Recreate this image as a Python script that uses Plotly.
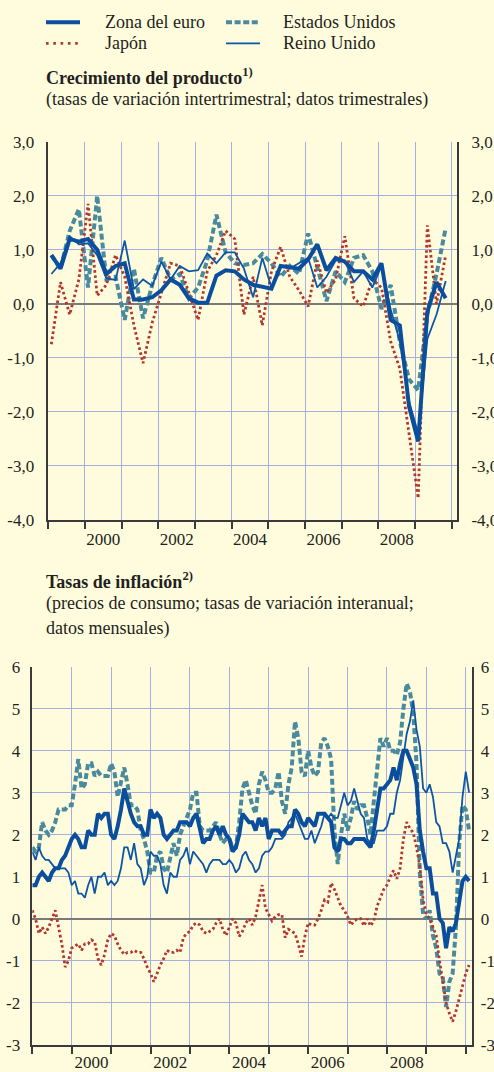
import plotly.graph_objects as go

# Crecimiento del producto: tasas intertrimestrales, 1999 T1 - 2009 T4
euro_q = [0.9, 0.65, 1.2, 1.15, 1.2, 1.0, 0.55, 0.7, 0.75, 0.08,
          0.08, 0.12, 0.25, 0.45, 0.35, 0.1, 0.02, 0.02, 0.52, 0.62,
          0.6, 0.45, 0.35, 0.32, 0.28, 0.7, 0.68, 0.65, 0.82, 1.1,
          0.62, 0.85, 0.78, 0.6, 0.6, 0.45, 0.75, -0.3, -0.4, -1.9,
          -2.55, -0.15, 0.4, 0.1]
us_q = [0.9, 0.65, 1.35, 1.75, 0.3, 2.0, 0.45, 0.5, -0.3, 0.65,
        -0.27, 0.35, 0.85, 0.45, 0.55, 0.1, 0.3, 0.8, 1.65, 0.95,
        0.75, 0.72, 0.75, 0.92, 0.75, 0.5, 0.7, 0.55, 1.3, 0.65,
        0.05, 0.6, 0.4, 0.85, 0.9, 0.6, -0.1, 0.35, -0.7, -1.4,
        -1.6, -0.2, 0.55, 1.4]
japan_q = [-0.75, 0.4, -0.2, 0.45, 1.85, 0.15, 0.35, 0.9, 0.5, -0.4,
           -1.1, -0.35, 0.2, 0.75, 0.7, 0.2, -0.3, 0.6, 0.9, 1.35,
           1.2, -0.2, 0.5, -0.4, 0.6, 1.05, 0.5, 0.25, -0.05, 0.8,
           0.2, 0.45, 1.25, 0.1, -0.05, 0.45, 0.3, -0.7, -1.2, -2.4,
           -3.6, 1.45, 0.0, 0.9]
uk_q = [0.55, 0.75, 1.25, 1.1, 1.12, 0.9, 0.47, 0.44, 1.17, 0.27,
        0.45, 0.33, 0.78, 0.45, 0.7, 0.6, 0.62, 0.93, 0.75, 0.95,
        0.95, 0.65, 0.12, 0.85, 0.3, 0.7, 0.65, 0.75, 0.85, 0.3,
        0.5, 0.8, 0.8, 0.4, 0.6, 0.3, 0.7, -0.1, -0.7, -1.8,
        -2.4, -0.65, -0.2, 0.42]

# Tasas de inflacion: tasas interanuales, ene 1999 - feb 2010
euro_m = [0.8, 0.8, 1.0, 1.1, 1.0, 0.9, 1.1, 1.2, 1.2, 1.4, 1.5, 1.7,
          1.9, 2.0, 1.9, 1.7, 1.7, 2.1, 2.0, 2.0, 2.5, 2.4, 2.5, 2.5,
          2.0, 1.9, 2.2, 2.6, 3.1, 2.8, 2.5, 2.3, 2.2, 2.2, 2.0, 2.0,
          2.6, 2.4, 2.5, 2.4, 2.0, 1.9, 2.0, 2.1, 2.1, 2.3, 2.3, 2.3,
          2.2, 2.4, 2.5, 2.1, 1.8, 1.9, 1.9, 2.1, 2.2, 2.0, 2.2, 2.0,
          1.9, 1.6, 1.7, 2.0, 2.5, 2.4, 2.3, 2.3, 2.1, 2.4, 2.2, 2.4,
          1.9, 2.1, 2.1, 2.1, 2.0, 2.1, 2.2, 2.2, 2.6, 2.5, 2.3, 2.2,
          2.4, 2.3, 2.2, 2.5, 2.5, 2.5, 2.4, 2.3, 1.7, 1.6, 1.9, 1.9,
          1.8, 1.8, 1.9, 1.9, 1.9, 1.9, 1.8, 1.7, 2.1, 2.6, 3.1, 3.1,
          3.2, 3.3, 3.6, 3.3, 3.7, 4.0, 4.0, 3.8, 3.6, 3.2, 2.1, 1.6,
          1.2, 1.2, 0.6, 0.6, 0.0, -0.1, -0.7, -0.2, -0.3, -0.1, 0.4, 0.9,
          1.0, 0.9]
us_m = [1.7, 1.6, 1.7, 2.3, 2.1, 2.0, 2.1, 2.3, 2.6, 2.6, 2.6, 2.7,
        2.7, 3.2, 3.8, 3.1, 3.2, 3.7, 3.7, 3.4, 3.5, 3.4, 3.4, 3.4,
        3.7, 3.5, 2.9, 3.3, 3.6, 3.2, 2.7, 2.7, 2.6, 2.1, 1.9, 1.6,
        1.1, 1.1, 1.5, 1.6, 1.2, 1.1, 1.5, 1.8, 1.5, 2.0, 2.2, 2.4,
        2.6, 3.0, 3.0, 2.2, 2.1, 2.1, 2.1, 2.2, 2.3, 2.0, 1.8, 1.9,
        1.9, 1.7, 1.7, 2.3, 3.1, 3.3, 3.0, 2.7, 2.5, 3.2, 3.5, 3.3,
        3.0, 3.0, 3.1, 3.5, 2.8, 2.5, 3.2, 3.6, 4.7, 4.3, 3.5, 3.4,
        4.0, 3.6, 3.4, 3.5, 4.2, 4.3, 4.1, 3.8, 2.1, 1.3, 2.0, 2.5,
        2.1, 2.4, 2.8, 2.6, 2.7, 2.7, 2.4, 2.0, 2.8, 3.5, 4.3, 4.1,
        4.3, 4.0, 4.0, 3.9, 4.2, 5.0, 5.6, 5.4, 4.9, 3.7, 1.1, 0.1,
        0.0, 0.2, -0.4, -0.7, -1.3, -1.4, -2.1, -1.5, -1.3, -0.2, 1.8, 2.7,
        2.6, 2.1]
japan_m = [0.2, 0.0, -0.35, -0.2, -0.35, -0.2, 0.0, 0.2, -0.2, -0.6, -1.15, -1.0,
           -0.7, -0.65, -0.6, -0.75, -0.6, -0.6, -0.5, -0.55, -0.95, -1.1, -0.85, -0.5,
           -0.35, -0.4, -0.6, -0.75, -0.85, -0.8, -0.8, -0.75, -0.8, -0.8, -0.95, -1.15,
           -1.3, -1.5, -1.3, -1.1, -0.95, -0.75, -0.8, -0.8, -0.75, -0.8, -0.45, -0.35,
           -0.3, -0.15, -0.1, -0.15, -0.3, -0.35, -0.3, -0.25, -0.1, 0.0, -0.25, -0.4,
           -0.2, 0.0, -0.1, -0.42, -0.3, -0.1, 0.0, -0.15, 0.05, 0.45, 0.8, 0.25,
           0.1, -0.05, 0.05, 0.1, 0.1, -0.45, -0.25, -0.3, -0.35, -0.6, -0.9, -0.42,
           -0.1, -0.15, -0.15, 0.0, 0.2, 0.45, 0.4, 0.85, 0.7, 0.5, 0.3, 0.2,
           0.05, -0.15, -0.05, 0.0, 0.0, -0.17, 0.0, -0.17, -0.05, 0.3, 0.5, 0.7,
           0.8, 1.0, 1.15, 0.95, 1.2, 1.9, 2.3, 2.15, 2.05, 1.7, 1.25, 0.45,
           0.1, 0.0, -0.2, -0.4, -1.0, -1.45, -2.0, -2.25, -2.45, -2.2, -1.9, -1.65,
           -1.3, -1.1]
uk_m = [1.6, 1.4, 1.7, 1.5, 1.4, 1.4, 1.3, 1.2, 1.2, 1.2, 1.2, 1.1,
        0.8, 0.9, 0.6, 0.6, 0.5, 0.8, 1.0, 0.6, 1.0, 1.0, 1.1, 0.8,
        0.9, 0.8, 0.9, 1.2, 1.7, 1.7, 1.4, 1.8, 1.3, 1.2, 0.8, 1.0,
        1.6, 1.5, 1.5, 1.3, 0.8, 0.6, 1.1, 1.0, 1.0, 1.4, 1.5, 1.7,
        1.3, 1.6, 1.5, 1.4, 1.3, 1.1, 1.3, 1.4, 1.4, 1.4, 1.3, 1.3,
        1.4, 1.3, 1.1, 1.2, 1.5, 1.6, 1.4, 1.3, 1.1, 1.2, 1.5, 1.6,
        1.6, 1.7, 1.9, 1.9, 1.9, 2.0, 2.3, 2.4, 2.5, 2.3, 2.1, 1.9,
        1.9, 2.1, 1.8, 2.0, 2.2, 2.5, 2.4, 2.5, 2.4, 2.4, 2.7, 3.0,
        2.7, 2.8, 3.1, 2.8, 2.5, 2.4, 1.9, 1.8, 1.8, 2.1, 2.1, 2.1,
        2.2, 2.5, 2.5, 3.0, 3.3, 3.8, 4.4, 4.7, 5.2, 4.5, 4.1, 3.1,
        3.0, 3.2, 2.9, 2.3, 2.2, 1.8, 1.8, 1.6, 1.1, 1.5, 1.9, 2.9,
        3.5, 3.0]

years = list(range(1999, 2011))
label_years = [2000, 2002, 2004, 2006, 2008]
growth_ticks = [-4, -3, -2, -1, 0, 1, 2, 3]
growth_text = ["-4,0", "-3,0", "-2,0", "-1,0", "0,0", "1,0", "2,0", "3,0"]
infl_ticks = [-3, -2, -1, 0, 1, 2, 3, 4, 5, 6]
infl_text = ["-3", "-2", "-1", "0", "1", "2", "3", "4", "5", "6"]

# positions on a decimal-year axis
x_q = [1999 + 1 / 12 + i / 4 for i in range(len(euro_q))]
x_m = [1999 + i / 12 for i in range(len(euro_m))]

# Colours / styles
BG = "#FFFCDE"
GRID = "#A6AFDD"
AXIS = "#3A3A3A"
ZERO = "#7A7A7A"
TEXT = "#231F20"
EURO = "#0B4E9E"
UK = "#0D55A5"
US = "#4A8A9E"
JAPAN = "#B2372D"
FONT = "Liberation Serif, Times New Roman, serif"

W, H = 494, 1072


def fx(px):
    return px / W


def fy(px):
    return 1 - px / H


fig = go.Figure()

# top chart
for xs, ys, color, width, dash in [
    (x_q, us_q, US, 4, "6px,3px"),
    (x_q, japan_q, JAPAN, 2.8, "2.6px,2.6px"),
    (x_q, uk_q, UK, 1.8, "solid"),
    (x_q, euro_q, EURO, 4, "solid"),
]:
    fig.add_trace(go.Scatter(x=xs, y=ys, mode="lines", xaxis="x", yaxis="y",
                             line=dict(color=color, width=width, dash=dash),
                             hoverinfo="skip"))

# bottom chart
for xs, ys, color, width, dash in [
    (x_m, us_m, US, 4, "6px,3px"),
    (x_m, japan_m, JAPAN, 2.8, "2.6px,2.6px"),
    (x_m, uk_m, UK, 1.8, "solid"),
    (x_m, euro_m, EURO, 4, "solid"),
]:
    fig.add_trace(go.Scatter(x=xs, y=ys, mode="lines", xaxis="x2", yaxis="y2",
                             line=dict(color=color, width=width, dash=dash),
                             hoverinfo="skip"))

# invisible copies so the right-hand axes get drawn
fig.add_trace(go.Scatter(x=x_q, y=euro_q, xaxis="x", yaxis="y3", mode="lines",
                         opacity=0, hoverinfo="skip"))
fig.add_trace(go.Scatter(x=x_m, y=euro_m, xaxis="x2", yaxis="y4", mode="lines",
                         opacity=0, hoverinfo="skip"))


def x_axis(domain, anchor, standoff):
    return dict(
        domain=domain, anchor=anchor, range=[1999, 2010.15],
        tickvals=[y + 0.5 for y in label_years],
        ticktext=[str(y) for y in label_years],
        ticks="", showgrid=False, zeroline=False,
        showline=True, linecolor=AXIS, linewidth=1.5,
        ticklabelstandoff=standoff,
        tickfont=dict(size=17, color=TEXT),
        minor=dict(tickvals=years, ticks="outside", ticklen=7, tickwidth=1.5,
                   tickcolor=AXIS, showgrid=True, gridcolor=GRID, gridwidth=1.2),
        automargin=False,
    )


def y_axis(domain, anchor, rng, vals, text, standoff, side="left", overlay=None):
    ax = dict(
        domain=domain, anchor=anchor, range=rng, side=side,
        tickvals=vals, ticktext=text, ticks="",
        showline=True, linecolor=AXIS, linewidth=1.5,
        ticklabelstandoff=standoff,
        tickfont=dict(size=17, color=TEXT),
        automargin=False,
    )
    if overlay:
        ax.update(overlaying=overlay, showgrid=False, zeroline=False)
    else:
        ax.update(showgrid=True, gridcolor=GRID, gridwidth=1.2,
                  zeroline=True, zerolinecolor=ZERO, zerolinewidth=2)
    return ax


top_x = [fx(48.3), fx(457.3)]
top_y = [fy(519.8), fy(141.7)]
bot_x = [fx(32.3), fx(471.7)]
bot_y = [fy(1044.8), fy(666.7)]

fig.update_layout(
    width=W, height=H,
    margin=dict(l=0, r=0, t=0, b=0),
    paper_bgcolor=BG, plot_bgcolor=BG,
    showlegend=False,
    font=dict(family=FONT, size=18, color=TEXT),
    xaxis=x_axis(top_x, "y", 3),
    yaxis=y_axis(top_y, "x", [-4, 3], growth_ticks, growth_text, 9),
    yaxis3=y_axis(top_y, "x", [-4, 3], growth_ticks, growth_text, 9,
                  side="right", overlay="y"),
    xaxis2=x_axis(bot_x, "y2", 1),
    yaxis2=y_axis(bot_y, "x2", [-3, 6], infl_ticks, infl_text, 7),
    yaxis4=y_axis(bot_y, "x2", [-3, 6], infl_ticks, infl_text, 4,
                  side="right", overlay="y2"),
)

# legend drawn by hand (2 x 2 block above the first chart)
legend = [
    ("Zona del euro", EURO, 4, "solid", 46, 80, 22.3, 103),
    ("Estados Unidos", US, 4, "6px,2.6px", 226, 260, 22.3, 281),
    ("Japón", JAPAN, 2.8, "2.6px,4.7px", 46, 80, 43.3, 103),
    ("Reino Unido", UK, 1.8, "solid", 226, 260, 43.3, 281),
]
for name, color, width, dash, x0, x1, yy, xt in legend:
    fig.add_shape(type="line", xref="paper", yref="paper",
                  x0=fx(x0), x1=fx(x1), y0=fy(yy), y1=fy(yy),
                  line=dict(color=color, width=width, dash=dash))
    fig.add_annotation(text=name, xref="paper", yref="paper",
                       x=fx(xt), y=fy(yy), xanchor="left", yanchor="middle",
                       showarrow=False, font=dict(size=18))

titles = [
    ("<b>Crecimiento del producto<sup>1)</sup></b>", 76),
    ("(tasas de variación intertrimestral; datos trimestrales)", 99.5),
    ("<b>Tasas de inflación<sup>2)</sup></b>", 580.5),
    ("(precios de consumo; tasas de variación interanual;", 603.5),
    ("datos mensuales)", 628.5),
]
for text, yy in titles:
    fig.add_annotation(text=text, xref="paper", yref="paper",
                       x=fx(44), y=fy(yy), xanchor="left", yanchor="middle",
                       showarrow=False, font=dict(size=18))

# the page's default 8px body margin would shift the whole chart
fig.write_html("out.html", config={"displayModeBar": False},
               post_script="document.body.style.margin = '0';")
